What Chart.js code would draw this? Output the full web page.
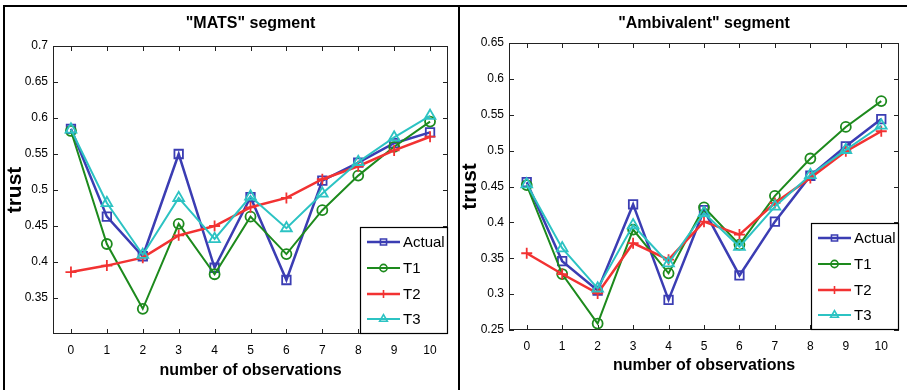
<!DOCTYPE html>
<html>
<head>
<meta charset="utf-8">
<script src="https://cdn.jsdelivr.net/npm/chart.js@4.4.1/dist/chart.umd.min.js"></script>
<style>
  html, body { margin: 0; padding: 0; background: #fff; }
  body { width: 907px; height: 390px; position: relative; overflow: hidden; }
  .rule { position: absolute; background: #000; }
  #topline { left: 3px; top: 5px; width: 904px; height: 2px; }
  #leftline { left: 3px; top: 5px; width: 2px; height: 385px; }
  #divider { left: 458px; top: 5px; width: 2px; height: 385px; }
  .panel { position: absolute; top: 7px; }
  #p1 { left: 5px; }
  #p2 { left: 460px; }
</style>
</head>
<body>
<div class="rule" id="topline"></div>
<div class="rule" id="leftline"></div>
<div class="rule" id="divider"></div>
<canvas class="panel" id="p1" width="453" height="383"></canvas>
<canvas class="panel" id="p2" width="447" height="383"></canvas>
<script>
// data
const xLabels = ['0', '1', '2', '3', '4', '5', '6', '7', '8', '9', '10'];
const seriesNames = ['Actual', 'T1', 'T2', 'T3'];

const matsActual = [0.585, 0.463, 0.408, 0.550, 0.392, 0.490, 0.375, 0.513, 0.538, 0.565, 0.580];
const matsT1     = [0.582, 0.425, 0.335, 0.453, 0.383, 0.463, 0.411, 0.472, 0.520, 0.560, 0.595];
const matsT2     = [0.386, 0.395, 0.406, 0.437, 0.450, 0.476, 0.489, 0.515, 0.533, 0.555, 0.574];
const matsT3     = [0.584, 0.482, 0.410, 0.489, 0.432, 0.491, 0.447, 0.495, 0.539, 0.573, 0.603];

const ambActual = [0.456, 0.346, 0.305, 0.425, 0.292, 0.417, 0.326, 0.401, 0.465, 0.506, 0.544];
const ambT1     = [0.452, 0.328, 0.259, 0.390, 0.329, 0.421, 0.369, 0.437, 0.489, 0.533, 0.569];
const ambT2     = [0.357, 0.328, 0.301, 0.371, 0.348, 0.401, 0.383, 0.427, 0.462, 0.499, 0.527];
const ambT3     = [0.453, 0.364, 0.308, 0.396, 0.343, 0.413, 0.366, 0.422, 0.466, 0.501, 0.535];

const matsYTicks = [0.35, 0.4, 0.45, 0.5, 0.55, 0.6, 0.65, 0.7];
const ambYTicks  = [0.25, 0.3, 0.35, 0.4, 0.45, 0.5, 0.55, 0.6, 0.65];

const FONT = '"Liberation Sans", Arial, sans-serif';

// matlab-ish line styles: b-s, g-o, r-+, c-^
const styles = [
  { color: '#3b3db3', marker: 'rect',     radius: 6,   width: 2.5, order: 3 },
  { color: '#1d8a1d', marker: 'circle',   radius: 5,   width: 2,   order: 2 },
  { color: '#f23232', marker: 'cross',    radius: 5.5, width: 2.5, order: 1 },
  { color: '#2cc3c3', marker: 'triangle', radius: 6.2, width: 2,   order: 0 }
];

function buildDatasets(series) {
  return series.map((vals, i) => ({
    label: seriesNames[i],
    data: vals,
    borderColor: styles[i].color,
    borderWidth: styles[i].width,
    pointStyle: styles[i].marker,
    pointRadius: styles[i].radius,
    pointBorderColor: styles[i].color,
    pointBorderWidth: 1.8,
    pointBackgroundColor: 'rgba(0,0,0,0)',
    tension: 0,
    order: styles[i].order
  }));
}

// box around the axes with inward ticks on all four sides
const axesBox = {
  id: 'axesBox',
  beforeDatasetsDraw(chart) {
    const { ctx, chartArea: a, scales: { x, y } } = chart;
    ctx.save();
    ctx.strokeStyle = '#222';
    ctx.lineWidth = 1;
    ctx.strokeRect(Math.round(a.left) + 0.5, Math.round(a.top) + 0.5,
      Math.round(a.right - a.left) - 1, Math.round(a.bottom - a.top) - 1);
    ctx.beginPath();
    x.ticks.forEach((t, i) => {
      const px = Math.round(x.getPixelForTick(i)) + 0.5;
      ctx.moveTo(px, a.top); ctx.lineTo(px, a.top + 5);
      ctx.moveTo(px, a.bottom); ctx.lineTo(px, a.bottom - 5);
    });
    y.ticks.forEach(t => {
      const py = Math.round(y.getPixelForValue(t.value)) + 0.5;
      ctx.moveTo(a.left, py); ctx.lineTo(a.left + 5, py);
      ctx.moveTo(a.right, py); ctx.lineTo(a.right - 5, py);
    });
    ctx.stroke();
    ctx.restore();
  }
};

// legend boxed in the lower right corner of the axes
const cornerLegend = {
  id: 'cornerLegend',
  afterDatasetsDraw(chart) {
    const { ctx, chartArea: a } = chart;
    const w = 88, h = 107;
    const left = Math.round(a.right) - w, top = Math.round(a.bottom) - h;
    ctx.save();
    ctx.fillStyle = '#fff';
    ctx.fillRect(left, top, w, h);
    ctx.strokeStyle = '#000';
    ctx.lineWidth = 1.2;
    ctx.strokeRect(left + 0.5, top + 0.5, w - 1, h - 1);
    const rows = [15, 41, 67, 92];
    chart.data.datasets.forEach((ds, i) => {
      const yy = top + rows[i];
      ctx.strokeStyle = ds.borderColor;
      ctx.lineWidth = ds.borderWidth;
      ctx.beginPath();
      ctx.moveTo(left + 7, yy); ctx.lineTo(left + 40, yy);
      ctx.stroke();
      if (Chart.helpers && Chart.helpers.drawPoint) {
        ctx.lineWidth = 1.6;
        ctx.fillStyle = 'rgba(0,0,0,0)';
        Chart.helpers.drawPoint(ctx, { pointStyle: ds.pointStyle, radius: ds.pointRadius * 0.72, borderWidth: 1.6, rotation: 0 }, left + 23.5, yy);
      }
      ctx.fillStyle = '#000';
      ctx.font = '15px ' + FONT;
      ctx.textBaseline = 'middle';
      ctx.textAlign = 'left';
      ctx.fillText(ds.label, left + 43, yy + 1);
    });
    ctx.restore();
  }
};

function makeChart(id, title, series, yMin, yMax, yTicks, cfg) {
  return new Chart(document.getElementById(id), {
    type: 'line',
    data: { labels: xLabels, datasets: buildDatasets(series) },
    options: {
      responsive: false,
      animation: false,
      layout: { padding: { left: 0, right: cfg.padRight, top: 0, bottom: 0 } },
      plugins: {
        legend: { display: false },
        tooltip: { enabled: false },
        title: {
          display: true, text: title, color: '#000', fullSize: false,
          font: { family: FONT, size: 16, weight: 'bold' },
          padding: { top: cfg.titleTop, bottom: cfg.titleBottom }
        }
      },
      scales: {
        x: {
          type: 'category', offset: true,
          grid: { display: false, drawTicks: false }, border: { display: false },
          ticks: { color: '#000', font: { family: FONT, size: 12 }, padding: cfg.xTickPad, maxRotation: 0, autoSkip: false },
          title: {
            display: true, text: 'number of observations', color: '#000',
            font: { family: FONT, size: 16, weight: 'bold' },
            padding: { top: 0, bottom: cfg.xTitlePad }
          },
          afterFit: s => { s.height = cfg.xAxisH; }
        },
        y: {
          min: yMin, max: yMax,
          grid: { display: false, drawTicks: false }, border: { display: false },
          afterBuildTicks: s => { s.ticks = yTicks.map(v => ({ value: v })); },
          ticks: { color: '#000', font: { family: FONT, size: 12 }, padding: 5, callback: v => String(+v.toFixed(2)) },
          title: {
            display: true, text: 'trust', color: '#000',
            font: { family: FONT, size: 21, weight: 'bold', lineHeight: 1 },
            padding: { top: 0, bottom: 0 }
          },
          afterFit: s => { s.width = cfg.yAxisW; }
        }
      }
    },
    plugins: [axesBox, cornerLegend]
  });
}

makeChart('p1', '"MATS" segment', [matsActual, matsT1, matsT2, matsT3], 0.3, 0.7, matsYTicks,
  { padRight: 10, titleTop: 7.4, titleBottom: 12.4, xAxisH: 56, xTickPad: 9, xTitlePad: 10, yAxisW: 48 });
makeChart('p2', '"Ambivalent" segment', [ambActual, ambT1, ambT2, ambT3], 0.25, 0.65, ambYTicks,
  { padRight: 5, titleTop: 7.4, titleBottom: 9.4, xAxisH: 60, xTickPad: 9, xTitlePad: 15, yAxisW: 49 });
</script>
</body>
</html>
